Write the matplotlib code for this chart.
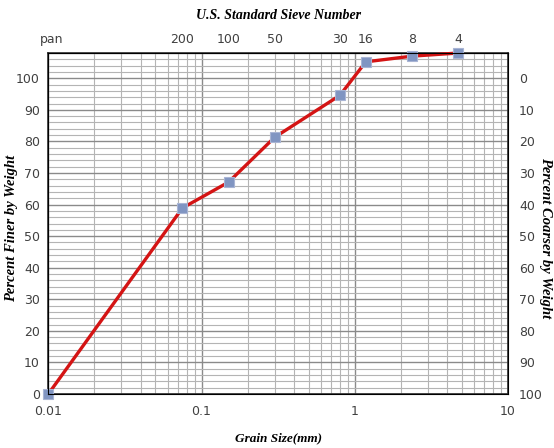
import matplotlib
matplotlib.use("Agg")
import matplotlib.pyplot as plt
from matplotlib.ticker import FixedLocator, NullFormatter, NullLocator

# grain size (mm) and percent finer
grain_size = [0.01, 0.075, 0.15, 0.3, 0.8, 1.18, 2.36, 4.75]
percent_finer = [0, 58.9, 67.1, 81.3, 94.6, 105.2, 107.0, 108.0]

# sieve labels along the top
sieve_pos = [0.0105, 0.075, 0.15, 0.3, 0.8, 1.18, 2.36, 4.75]
sieve_labels = ["pan", "200", "100", "50", "30", "16", "8", "4"]

x_ticks = [0.01, 0.1, 1, 10]
x_tick_labels = ["0.01", "0.1", "1", "10"]
y_ticks = list(range(0, 101, 10))

serif = dict(family="Liberation Serif", style="italic", weight="bold")
tick_col = "#404040"

fig = plt.figure(figsize=(5.54, 4.48), dpi=100)
ax = fig.add_axes([0.0872, 0.1205, 0.8298, 0.7612])

ax.set_xscale("log")
ax.set_xlim(0.01, 10)
ax.set_ylim(0, 108)

# grid
minor_x = [m * 10.0 ** e for e in (-2, -1, 0) for m in range(2, 10)]
ax.xaxis.set_minor_locator(FixedLocator(minor_x))
ax.xaxis.set_minor_formatter(NullFormatter())
ax.yaxis.set_minor_locator(FixedLocator([v for v in range(0, 109, 2) if v % 10]))
ax.grid(which="major", color="#8a8a8a", linewidth=1.0)
ax.grid(which="minor", color="#b4b4b4", linewidth=0.8)
ax.set_axisbelow(True)

ax.plot(grain_size, percent_finer, "-", color="#d41414", linewidth=2.4,
        marker="s", markersize=7, markerfacecolor="#8095c2",
        markeredgecolor="#a8b4d4", markeredgewidth=0.8, zorder=5, clip_on=False)

ax.set_xticks(x_ticks)
ax.set_xticklabels(x_tick_labels)
ax.set_yticks(y_ticks)
ax.tick_params(which="both", length=0, labelsize=9, labelcolor=tick_col, pad=8)
ax.tick_params(axis="y", pad=6)

for s in ax.spines.values():
    s.set_color("#303030")
    s.set_linewidth(1.2)

# right axis: percent coarser
ax2 = ax.twinx()
ax2.set_ylim(0, 108)
ax2.set_yticks(y_ticks)
ax2.set_yticklabels([str(100 - v) for v in y_ticks])
ax2.tick_params(length=0, labelsize=9, labelcolor=tick_col, pad=8)
ax2.yaxis.set_minor_locator(NullLocator())

# top axis: sieve numbers
top = ax.secondary_xaxis("top")
top.set_xticks(sieve_pos)
top.set_xticklabels(sieve_labels)
top.xaxis.set_minor_locator(NullLocator())
top.tick_params(length=0, labelsize=9, labelcolor=tick_col, pad=5)
top.set_xlabel("U.S. Standard Sieve Number", labelpad=10, size=10, **serif)

ax.set_xlabel("Grain Size(mm)", labelpad=10, size=9.5, **serif)
fig.text(0.02, 0.49, "Percent Finer by Weight", rotation=90,
         ha="center", va="center", size=10.5, **serif)
fig.text(0.984, 0.47, "Percent Coarser by Weight", rotation=-90,
         ha="center", va="center", size=10.5, **serif)

fig.savefig("out.png", dpi=100)
